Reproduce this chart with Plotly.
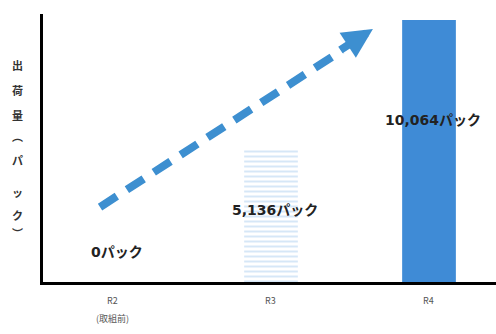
import plotly.graph_objects as go

# Shipment volume (packs) per fiscal year
categories = ["R2", "R3", "R4"]
tick_lines = [["R2", "(取組前)"], ["R3"], ["R4"]]
packs = [0, 5136, 10064]
axis_title_chars = ["出", "荷", "量", "︵", "パ", "ッ", "ク", "︶"]
axis_title_ypx = [65, 90, 115, 136, 160, 192, 215, 233]

bar_colors = ["#3f8bd6", "#d6e7f7", "#3f8bd6"]
pattern_shapes = ["", "-", ""]
pattern_fg = ["#3f8bd6", "#92bbe5", "#3f8bd6"]
pattern_bg = ["#3f8bd6", "#d8e8f8", "#3f8bd6"]

fig = go.Figure()
fig.add_trace(go.Bar(
    x=categories,
    y=packs,
    width=0.34,
    marker=dict(
        color=bar_colors,
        line=dict(width=0),
        pattern=dict(shape=pattern_shapes, fillmode="replace", fgcolor=pattern_fg,
                     bgcolor=pattern_bg, fgopacity=1, size=5, solidity=0.4),
    ),
    hoverinfo="skip",
))

# value labels, placed partway up each bar
label_frac = [None, 0.54, 0.62]
label_font = dict(family="DejaVu Sans, Noto Sans CJK JP", size=14, color="#222")
for i, (c, v) in enumerate(zip(categories, packs)):
    y = v * label_frac[i] if label_frac[i] is not None else 1150
    fig.add_annotation(x=c, y=y, text=f"<b>{v:,}パック</b>", showarrow=False,
                       font=label_font, xshift=4)

# dashed trend arrow
fig.add_shape(type="line", xref="x", yref="y",
              x0=-0.082, y0=2880, x1=1.45, y1=8900,
              line=dict(color="#3d8fd0", width=8, dash="20px,12px"))
fig.add_annotation(xref="x", yref="y", x=1.645, y=9720, ax=-34, ay=22,
                   text="", showarrow=True, arrowhead=2, arrowsize=0.75,
                   arrowwidth=8, arrowcolor="#3d8fd0", standoff=0)

# vertical axis title, one character per row
for ch, ypx in zip(axis_title_chars, axis_title_ypx):
    fig.add_annotation(xref="paper", yref="paper", x=-0.057,
                       y=(282 - ypx) / 268, text=f"<b>{ch}</b>", showarrow=False,
                       font=dict(family="Noto Sans CJK JP", size=11, color="#333"),
                       xanchor="center", yanchor="middle")

# category labels under the axis
for c, lines in zip(categories, tick_lines):
    for j, line in enumerate(lines):
        fig.add_annotation(x=c, xref="x", yref="paper", y=-(18 + 18 * j) / 268,
                           text=line, showarrow=False, xshift=-1,
                           font=dict(family="Noto Sans CJK JP", size=9, color="#555"),
                           yanchor="middle")

fig.update_layout(
    width=496, height=334,
    margin=dict(l=43, r=0, t=14, b=52),
    paper_bgcolor="white", plot_bgcolor="white",
    showlegend=False,
    xaxis=dict(type="category", range=[-0.443, 2.424], showline=True,
               linecolor="black", linewidth=3, showticklabels=False,
               ticks="", showgrid=False, zeroline=False),
    yaxis=dict(range=[0, 10295], showline=True, linecolor="black", linewidth=3,
               showticklabels=False, ticks="", showgrid=False, zeroline=False),
)

fig.write_html("out.html")
